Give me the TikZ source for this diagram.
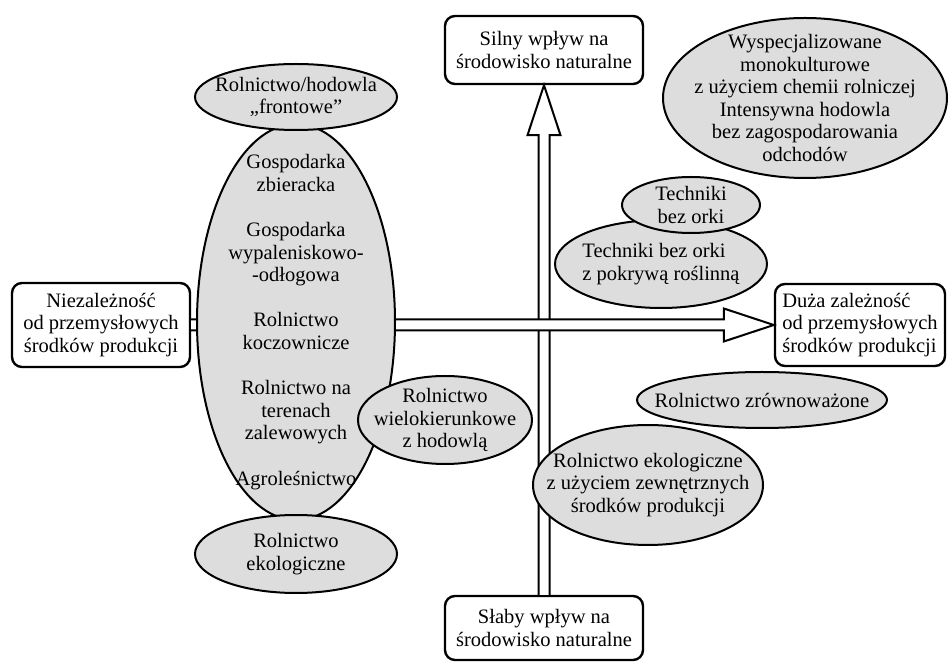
\documentclass[tikz,border=0pt]{standalone}
\usepackage{fontspec}
\setmainfont{Liberation Serif}
\usetikzlibrary{shapes.geometric, calc}
\definecolor{ellgray}{RGB}{221,221,221}
\newcommand\shaftw{5.5}
\newcommand\headw{16.5}
\newcommand\headl{50}
\newcommand\gap{11.3pt}

\begin{document}
\begin{tikzpicture}[x = 0.5pt, y = 0.5pt, yscale = -1, line width = 1pt,
	every node/.style = {font = \fontsize{10.25pt}{11.3pt}\selectfont, align = center},
	box/.style = {draw, line width = 1.2pt, rounded corners = 5pt, fill = white, inner sep = 0pt},
	ell/.style = {ellipse, draw, fill = ellgray, inner sep = -2cm},
	bigarrow/.style = {draw, fill = white, line join = miter}]
	\useasboundingbox (0, 0) rectangle (949, 662);

	% Ramki:
	\node [box, minimum width = 89pt, minimum height = 42pt] (indep) at (101, 325) {Niezależność\\od przemysłowych\\środków produkcji};
	\node [box, minimum width = 85pt, minimum height = 41pt, align = left] (dep) at (860, 325) {Duża zależność\\od przemysłowych\\środków produkcji};
	\node [box, minimum width = 99pt, minimum height = 34pt] (strong) at (544, 50) {Silny wpływ na\\środowisko naturalne};
	\node [box, minimum width = 99pt, minimum height = 32pt] (weak) at (544, 628) {Słaby wpływ na\\środowisko naturalne};

	% Osie:
	\draw [bigarrow] ($(weak.north) + (-\shaftw, 0)$) -- ($(strong.south) + (-\shaftw, \headl)$) -- ($(strong.south) + (-\headw, \headl)$) -- (strong.south) -- ($(strong.south) + (\headw, \headl)$) -- ($(strong.south) + (\shaftw, \headl)$) -- ($(weak.north) + (\shaftw, 0)$);
	\draw [bigarrow] ($(indep.east) + (0, -\shaftw)$) -- ($(dep.west) + (-\headl, -\shaftw)$) -- ($(dep.west) + (-\headl, -\headw)$) -- (dep.west) -- ($(dep.west) + (-\headl, \headw)$) -- ($(dep.west) + (-\headl, \shaftw)$) -- ($(indep.east) + (0, \shaftw)$);

	% Elipsy, lewa strona
	\node [ell, minimum width = 99pt, minimum height = 198pt] (main) at (296, 322) {Gospodarka\\zbieracka\\[\gap]Gospodarka\\wypaleniskowo-\\-odłogowa\\[\gap]Rolnictwo\\koczownicze\\[\gap]Rolnictwo na\\terenach\\zalewowych\\[\gap]Agroleśnictwo};
	\node [ell, minimum width = 101pt, minimum height = 33pt] (front) at (296, 97) {Rolnictwo/hodowla\\„frontowe”};
	\node [ell, minimum width = 101pt, minimum height = 39pt] (eko) at (296, 554) {Rolnictwo\\ekologiczne};
	\node [ell, minimum width = 87pt, minimum height = 44pt] (multi) at (445, 420) {Rolnictwo\\wielokierunkowe\\z hodowlą};

	% Elipsy, prawa strona
	\node [ell, minimum width = 142pt, minimum height = 80pt] (spec) at (805, 98) {Wyspecjalizowane\\monokulturowe\\z użyciem chemii rolniczej\\Intensywna hodowla\\bez zagospodarowania\\odchodów};
	\node [ell, minimum width = 106pt, minimum height = 44pt, align = left] (cover) at (661, 264) {Techniki bez orki\\z pokrywą roślinną};
	\node [ell, minimum width = 69pt, minimum height = 28pt] (notill) at (691, 205) {Techniki\\bez orki};
	\node [ell, minimum width = 125pt, minimum height = 28pt] (sust) at (762, 400) {Rolnictwo zrównoważone};
	\node [ell, minimum width = 115pt, minimum height = 60pt] (ekoext) at (648, 485) {Rolnictwo ekologiczne\\z użyciem zewnętrznych\\środków produkcji};
\end{tikzpicture}
\end{document}
